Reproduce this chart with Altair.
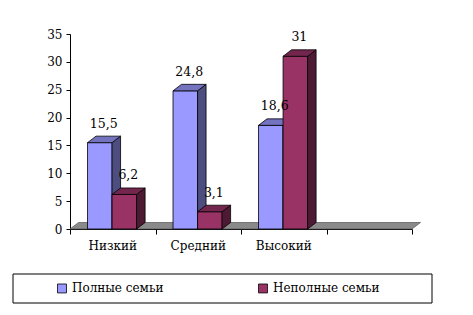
import altair as alt
import pandas as pd

# ---- data ----
categories = ["Низкий", "Средний", "Высокий"]
series = ["Полные семьи", "Неполные семьи"]
full_values = [15.5, 24.8, 18.6]
incomplete_values = [6.2, 3.1, 31]
n_slots = 4  # the category axis has one extra empty slot
y_ticks = [0, 5, 10, 15, 20, 25, 30, 35]

# ---- style ----
front_colors = ["#9999FF", "#993366"]
side_colors = ["#4D4D80", "#4D1A33"]
top_colors = ["#7373BF", "#73264D"]
FONT = "DejaVu Serif"
W, H = 342, 195
OFF, BW = 0.205, 0.287          # bar offset inside slot, bar width (slot units)
DX, DY = 8.5 / (W / n_slots), 6.5 / (H / 35)   # 3D depth in data units

xs = alt.Scale(domain=[0, n_slots], nice=False, zero=False)
ys = alt.Scale(domain=[0, 35], nice=False)
x_axis = alt.Axis(values=list(range(n_slots + 1)), labels=False, title=None,
                  grid=False, tickSize=5, domainColor="black", tickColor="black")
y_axis = alt.Axis(values=y_ticks, title=None, grid=False, tickSize=4,
                  labelFont=FONT, labelFontSize=12, labelColor="black",
                  labelOverlap=False, labelBound=False, labelFlush=False,
                  labelPadding=4, domainColor="black", tickColor="black")

values = [full_values, incomplete_values]

def X(field):
    return alt.X(field, scale=xs, axis=x_axis)

def Y(field):
    return alt.Y(field, scale=ys, axis=y_axis, stack=None)

layers = []

# floor
floor = pd.DataFrame({
    "x": [0, DX, n_slots, n_slots + DX],
    "lo": [0, 0, 0, DY],
    "hi": [0, DY, DY, DY],
})
layers.append(
    alt.Chart(floor).mark_area(fill="#8A8A8A", stroke="#555555", strokeWidth=0.7)
    .encode(x=X("x:Q"), y=Y("lo:Q"), y2="hi:Q")
)

label_rows = []
for s, name in enumerate(series):
    fr, sd, tp = [], [], []
    for i, v in enumerate(values[s]):
        x0 = i + OFF + s * BW
        x1 = x0 + BW
        fr.append({"x0": x0, "x1": x1, "v": v, "series": name})
        sd += [{"cat": i, "x": x1, "lo": 0, "hi": v},
               {"cat": i, "x": x1 + DX, "lo": DY, "hi": v + DY}]
        tp += [{"cat": i, "x": x0, "lo": v, "hi": v},
               {"cat": i, "x": x0 + DX, "lo": v, "hi": v + DY},
               {"cat": i, "x": x1, "lo": v, "hi": v + DY},
               {"cat": i, "x": x1 + DX, "lo": v + DY, "hi": v + DY}]
        label_rows.append({"xc": (x0 + x1) / 2, "v": v, "txt": str(v).replace(".", ",")})
    layers.append(
        alt.Chart(pd.DataFrame(fr)).mark_bar(stroke="black", strokeWidth=0.8)
        .encode(x=X("x0:Q"), x2="x1:Q",
                y=Y("v:Q"), y2=alt.datum(0),
                color=alt.Color("series:N",
                                scale=alt.Scale(domain=series, range=front_colors),
                                legend=alt.Legend(
                                    title=None, orient="none", direction="horizontal",
                                    columns=2, legendX=-14, legendY=248,
                                    symbolType="square", symbolSize=80,
                                    symbolStrokeColor="black", symbolStrokeWidth=0.8,
                                    labelFont=FONT, labelFontSize=12, labelColor="black",
                                    labelOffset=4, columnPadding=92, padding=0,
                                    labelLimit=300)))
    )
    layers.append(
        alt.Chart(pd.DataFrame(sd)).mark_area(fill=side_colors[s], stroke="black", strokeWidth=0.8)
        .encode(x=X("x:Q"), y=Y("lo:Q"), y2="hi:Q", detail="cat:N")
    )
    layers.append(
        alt.Chart(pd.DataFrame(tp)).mark_area(fill=top_colors[s], stroke="black", strokeWidth=0.8)
        .encode(x=X("x:Q"), y=Y("lo:Q"), y2="hi:Q", detail="cat:N")
    )

# value labels
layers.append(
    alt.Chart(pd.DataFrame(label_rows)).mark_text(font=FONT, fontSize=12.5, color="black",
                                                  baseline="alphabetic", dx=4, dy=-15)
    .encode(x=X("xc:Q"), y=Y("v:Q"), text="txt:N")
)

# category labels
cat_df = pd.DataFrame({"xc": [i + 0.5 for i in range(len(categories))], "name": categories})
layers.append(
    alt.Chart(cat_df).mark_text(font=FONT, fontSize=12, color="black", baseline="alphabetic")
    .encode(x=X("xc:Q"), y=alt.value(H + 21), text="name:N")
)

# legend frame
layers.append(
    alt.Chart(pd.DataFrame({"a": [0]})).mark_rect(fill=None, stroke="black", strokeWidth=1)
    .encode(x=alt.value(-57), x2=alt.value(362), y=alt.value(240), y2=alt.value(269))
)

chart = alt.layer(*layers).properties(
    width=W, height=H,
    autosize=alt.AutoSizeParams(type="none"),
    padding={"left": 70, "top": 34, "right": 61, "bottom": 86},
    background="white",
).configure(font=FONT).configure_axis(labelFont=FONT, labelFontSize=12).configure_view(stroke=None)

chart.save("out.html", embed_options={"renderer": "svg", "actions": False})
